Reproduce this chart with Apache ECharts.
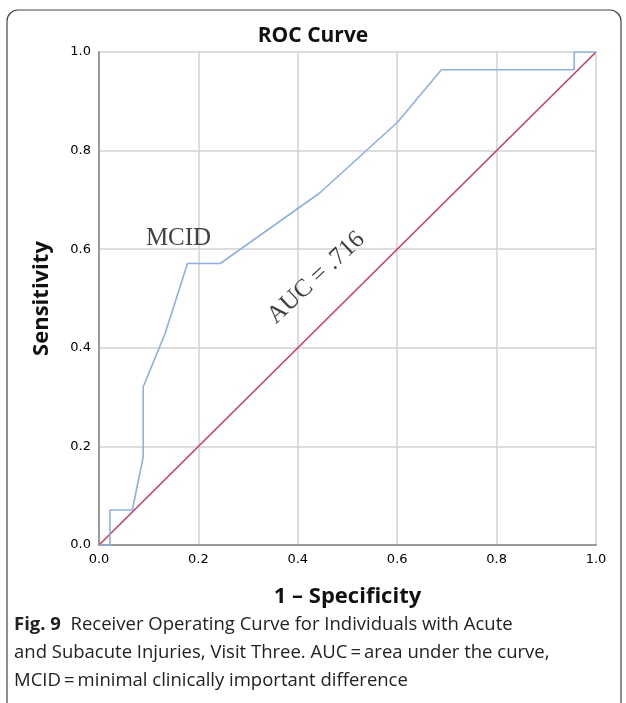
<!DOCTYPE html>
<html>
	<head>
		<meta charset="utf-8">
		<title>ROC Curve</title>
		<style>
			body{margin:0;background:#fff;}
			#main{width:626px;height:703px;}
		</style>
	</head>
	<body>
		<div id="main"></div>
		<script src="https://cdn.jsdelivr.net/npm/echarts@6/dist/echarts.min.js"></script>
		<script>
			// ROC curve points: 1 - specificity, sensitivity
			var fpr=[0,0.022,0.022,0.067,0.089,0.089,0.133,0.178,0.244,0.444,0.6,0.689,0.956,0.956,1]
			var tpr=[0,0,0.071,0.071,0.179,0.321,0.429,0.571,0.571,0.714,0.857,0.964,0.964,1,1]
			var refLine=[[0,0],[1,1]]
			// annotations in data coords
			var notes=[
				{name:'MCID',value:[0.16,0.622],rotate:0},
				{name:'AUC = .716',value:[0.437,0.542],rotate:43}
			]
			var captionLines=[
				'Receiver Operating Curve for Individuals with Acute',
				'and Subacute Injuries, Visit Three. AUC\u2009=\u2009area under the curve,',
				'MCID\u2009=\u2009minimal clinically important difference'
			]

			var roc=fpr.map((x,i)=>[x,tpr[i]])

			var mychart=echarts.init(document.getElementById("main"))
			var axisText={color:'#000',fontFamily:'DejaVu Sans',fontSize:13}
			var option={
				animation:false,
				title:{
					text:'ROC Curve',left:'center',top:21,
					textStyle:{fontFamily:'Open Sans',fontWeight:'bold',fontSize:21,color:'#111'}
				},
				grid:{left:99,right:30,top:52,bottom:158},
				xAxis:{
					type:'value',min:0,max:1,interval:0.2,
					name:'1 \u2013 Specificity',nameLocation:'middle',nameGap:41,
					nameTextStyle:{fontFamily:'Open Sans',fontWeight:'bold',fontSize:22,color:'#111'},
					axisLine:{lineStyle:{color:'#9a9a9a',width:2}},
					axisTick:{show:false},
					axisLabel:Object.assign({margin:8,formatter:v=>v.toFixed(1)},axisText),
					splitLine:{lineStyle:{color:'#d2d2d2',width:1.5}}
				},
				yAxis:{
					type:'value',min:0,max:1,interval:0.2,
					name:'Sensitivity',nameLocation:'middle',nameGap:46,nameRotate:90,
					nameTextStyle:{fontFamily:'Open Sans',fontWeight:'bold',fontSize:22,color:'#111'},
					axisLine:{show:true,lineStyle:{color:'#9a9a9a',width:2}},
					axisTick:{show:false},
					axisLabel:Object.assign({margin:8,formatter:v=>v.toFixed(1)},axisText),
					splitLine:{lineStyle:{color:'#d2d2d2',width:1.5}}
				},
				series:[
					{
						type:'line',data:refLine,symbol:'none',
						lineStyle:{color:'#c9405f',width:1.6},z:2
					},
					{
						type:'line',data:roc,symbol:'none',
						lineStyle:{color:'#8eb0e2',width:1.6},z:3
					},
					{
						type:'scatter',symbolSize:0,silent:true,
						data:notes.map(n=>({name:n.name,value:n.value,label:{rotate:n.rotate}})),
						label:{
							show:true,position:'inside',formatter:'{b}',
							fontFamily:'Liberation Serif',fontSize:25,color:'#111'
						}
					}
				],
				graphic:[
					{
						type:'rect',shape:{x:7,y:10,width:614,height:710,r:11},
						style:{fill:'none',stroke:'#444',lineWidth:1.2},silent:true
					},
					{
						type:'text',left:14,top:611,
						style:{
							text:'{b|Fig. 9}  '+captionLines[0]+'\n'+captionLines[1]+'\n'+captionLines[2],
							lineHeight:28,fontFamily:'Open Sans',fontSize:18.5,fill:'#222',
							rich:{b:{fontFamily:'Open Sans',fontWeight:'bold',fontSize:18.5,fill:'#222',lineHeight:28}}
						}
					}
				]
			};
			mychart.setOption(option);
		</script>
	</body>
</html>
